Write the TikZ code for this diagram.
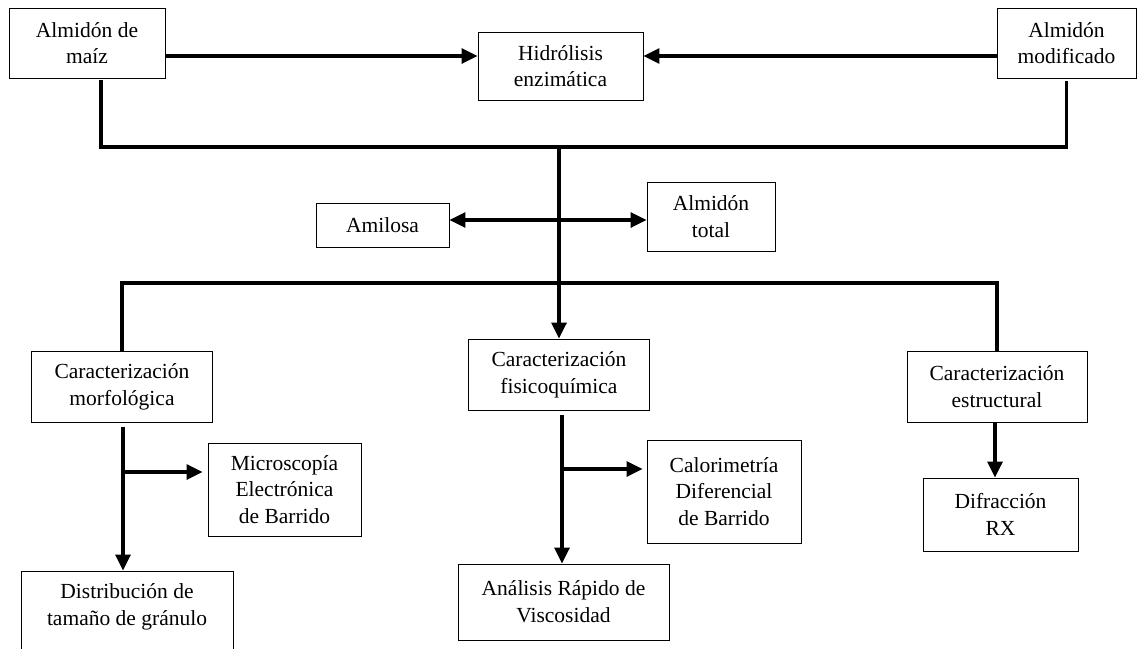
\documentclass[tikz,border=0pt]{standalone}
\usepackage{fontspec}
\setmainfont{Liberation Serif}
\usetikzlibrary{arrows.meta,calc}
\newcommand{\boxfont}{\fontsize{21.5}{26.7}\selectfont}
\begin{document}
\begin{tikzpicture}[x=1pt,y=-1pt,
  box/.style={draw, line width=0.9pt, align=center, inner sep=0pt, font=\boxfont},
  conn/.style={line width=3.2pt},
  arr/.style={line width=3.2pt, -{Triangle[length=16pt,width=15pt]}}]
\clip (0,0) rectangle (1138,648);
\fill[white] (0,0) rectangle (1138,648);
% nodes
\node[box, minimum width=156pt, minimum height=70pt] (maiz) at (87,43) {Almidón de\\maíz};
\node[box, minimum width=165pt, minimum height=68pt] (hidro) at (560.5,66) {Hidrólisis\\enzimática};
\node[box, minimum width=139pt, minimum height=70pt] (modif) at (1066.5,43) {Almidón\\modificado};
\node[box, minimum width=133pt, minimum height=44pt] (amilosa) at (382.5,225) {Amilosa};
\node[box, minimum width=128pt, minimum height=69pt] (total) at (711,216.5) {Almidón\\total};
\node[box, minimum width=181pt, minimum height=71pt] (morf) at (122,386.5) {Caracterización\\morfológica};
\node[box, minimum width=181pt, minimum height=71pt] (fisico) at (559,374.5) {Caracterización\\fisicoquímica};
\node[box, minimum width=180pt, minimum height=71pt] (estruct) at (997,386.5) {Caracterización\\estructural};
\node[box, minimum width=153pt, minimum height=93pt] (micro) at (284.5,489.5) {Microscopía\\Electrónica\\de Barrido};
\node[box, minimum width=154pt, minimum height=103pt] (calor) at (724,491.5) {Calorimetría\\Diferencial\\de Barrido};
\node[box, minimum width=211pt, minimum height=76pt] (analisis) at (563.5,602) {Análisis Rápido de\\Viscosidad};
\node[box, minimum width=155pt, minimum height=73pt] (difrac) at (1000.5,514.5) {Difracción\\RX};
\node[box, minimum width=212pt, minimum height=94pt] (distrib) at (127,618) {Distribución de\\tamaño de gránulo\\\mbox{}};
% junction coordinates
\coordinate (ytop) at (0,56);
\coordinate (j1) at (559,147);
\coordinate (j2) at (559,220);
\coordinate (j3) at (559,283);
\coordinate (bm) at (123,472);
\coordinate (bf) at (562,469);
% connectors
\draw[arr] (maiz.east |- ytop) -- (hidro.west |- ytop);
\draw[arr] (modif.west |- ytop) -- (hidro.east |- ytop);
\draw[conn] ([xshift=14pt,yshift=-2pt]maiz.south) |- (j1) -| ([yshift=-3pt]modif.south);
\draw[arr] (j1) -- (fisico.north);
\draw[arr] (j2) -- (amilosa.east |- j2);
\draw[arr] (j2) -- (total.west |- j2);
\draw[conn] (morf.north) |- (j3) -| (estruct.north);
\draw[arr] (bm |- morf.south) ++(0,5) -- (bm |- distrib.north);
\draw[arr] (bm) -- ([xshift=-5pt]micro.west |- bm);
\draw[arr] (bf |- fisico.south) ++(0,5) -- (bf |- analisis.north);
\draw[arr] (bf) -- ([xshift=-4pt]calor.west |- bf);
\draw[arr] (estruct.south -| 995,0) -- (difrac.north -| 995,0);
\end{tikzpicture}
\end{document}
